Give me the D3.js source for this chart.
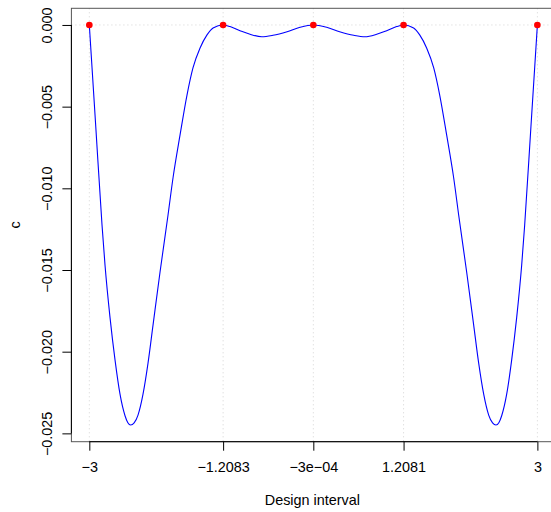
<!DOCTYPE html>
<html><head><meta charset="utf-8">
<script src="https://cdn.jsdelivr.net/npm/d3@7"></script>
<style>
html,body{margin:0;padding:0;background:#fff;}
text{font-family:"Liberation Sans",Arial,Helvetica,sans-serif;}
</style></head>
<body>
<svg id="chart" width="551" height="512"></svg>
<script>
// Curve: design interval x vs criterion c
const curveX = [-3, -2.914, -2.830, -2.790, -2.723, -2.656, -2.589, -2.522, -2.484, -2.446, -2.400, -2.348, -2.281, -2.214, -2.147, -2.053, -1.946, -1.879, -1.785, -1.692, -1.612, -1.517, -1.424, -1.343, -1.2083, -1.116, -0.982, -0.848, -0.691, -0.540, -0.352, -0.178, -0.0003,
  0.178, 0.352, 0.540, 0.691, 0.848, 0.982, 1.116, 1.2081, 1.343, 1.424, 1.517, 1.612, 1.692, 1.785, 1.879, 1.946, 2.053, 2.147, 2.214, 2.281, 2.348, 2.400, 2.446, 2.484, 2.522, 2.589, 2.656, 2.723, 2.790, 2.830, 2.914, 3];
const curveC = [0, -0.0062, -0.01224, -0.01469, -0.0179, -0.0205, -0.0226, -0.02392, -0.02435, -0.02449, -0.02436, -0.02388, -0.0226, -0.0207, -0.01837, -0.01512, -0.01163, -0.00935, -0.00673, -0.00429, -0.00263, -0.00141, -0.00061, -0.00018, 0, -0.00010, -0.00035, -0.00057, -0.00072, -0.00063, -0.00041, -0.00014, 0,
  -0.00014, -0.00041, -0.00063, -0.00072, -0.00057, -0.00035, -0.00010, 0, -0.00018, -0.00061, -0.00141, -0.00263, -0.00429, -0.00673, -0.00935, -0.01163, -0.01512, -0.01837, -0.0207, -0.0226, -0.02388, -0.02436, -0.02449, -0.02435, -0.02392, -0.0226, -0.0205, -0.0179, -0.01469, -0.01224, -0.0062, 0];
// Support points
const pointX = [-3, -1.2083, -0.0003, 1.2081, 3];
const pointC = [0, 0, 0, 0, 0];
// Ticks
const xTicks = [-3, -1.2083, -0.0003, 1.2081, 3];
const xTickLabels = ["\u22123", "\u22121.2083", "\u22123e\u221204", "1.2081", "3"];
const yTicks = [0, -0.005, -0.010, -0.015, -0.020, -0.025];
const yTickLabels = ["0.000", "\u22120.005", "\u22120.010", "\u22120.015", "\u22120.020", "\u22120.025"];
const xLabel = "Design interval";
const yLabel = "c";

const FS = 14.4;
const svg = d3.select("#chart");
const L = 71.4, R = 555.3, T = 8.3, B = 441.7;
const x = d3.scaleLinear().domain([-3.24, 3.24]).range([L, R]);
const y = d3.scaleLinear().domain([-0.02551, 0.00102]).range([B, T]);

// grid
const grid = svg.append("g").attr("stroke", "#d3d3d3").attr("stroke-dasharray", "1,3").attr("stroke-width", 1);
xTicks.forEach(v => {
  grid.append("line").attr("x1", x(v)).attr("x2", x(v)).attr("y1", T).attr("y2", B);
});
grid.append("line").attr("x1", L).attr("x2", R).attr("y1", y(0)).attr("y2", y(0));

// curve
const pts = curveX.map((v, i) => [v, curveC[i]]);
svg.append("path").datum(pts)
  .attr("fill", "none").attr("stroke", "#0000ff").attr("stroke-width", 1.1)
  .attr("d", d3.line().x(d => x(d[0])).y(d => y(d[1])).curve(d3.curveMonotoneX));

// points
svg.append("g").selectAll("circle").data(pointX).join("circle")
  .attr("cx", d => x(d)).attr("cy", (d, i) => y(pointC[i])).attr("r", 3.3).attr("fill", "#ff0000");

// box
svg.append("rect").attr("x", L).attr("y", T).attr("width", R - L).attr("height", B - T)
  .attr("fill", "none").attr("stroke", "#555").attr("stroke-width", 1);

// x axis
const xAxis = d3.axisBottom(x).tickValues(xTicks).tickFormat((d, i) => xTickLabels[i]).tickSize(9).tickPadding(11);
const gx = svg.append("g").attr("transform", `translate(0,${B})`).call(xAxis);
gx.select(".domain").attr("d", `M${x(-3)},0H${x(3)}`).attr("stroke", "#000");
gx.selectAll("text").attr("font-size", FS).attr("fill", "#000").attr("font-family", "Liberation Sans, Arial, sans-serif");
gx.selectAll("line").attr("stroke", "#000");

// y axis
const yAxis = d3.axisLeft(y).tickValues(yTicks).tickFormat((d, i) => yTickLabels[i]).tickSize(9).tickPadding(5);
const gy = svg.append("g").attr("transform", `translate(${L},0)`).call(yAxis);
gy.select(".domain").attr("d", `M0,${y(0)}V${y(-0.025)}`).attr("stroke", "#000");
gy.selectAll("line").attr("stroke", "#000");
gy.selectAll("text")
  .attr("font-size", FS).attr("fill", "#000").attr("font-family", "Liberation Sans, Arial, sans-serif")
  .attr("x", null).attr("dy", null)
  .attr("text-anchor", "middle")
  .attr("transform", d => `translate(-19.6,0) rotate(-90)`)
  .attr("y", 0);

// axis titles
svg.append("text").attr("x", (L + R) / 2 - 1).attr("y", 505).attr("text-anchor", "middle")
  .attr("font-size", FS).text(xLabel);
svg.append("text").attr("transform", `translate(19.5,${(T + B) / 2}) rotate(-90)`).attr("text-anchor", "middle")
  .attr("font-size", FS).text(yLabel);
</script>
</body></html>
